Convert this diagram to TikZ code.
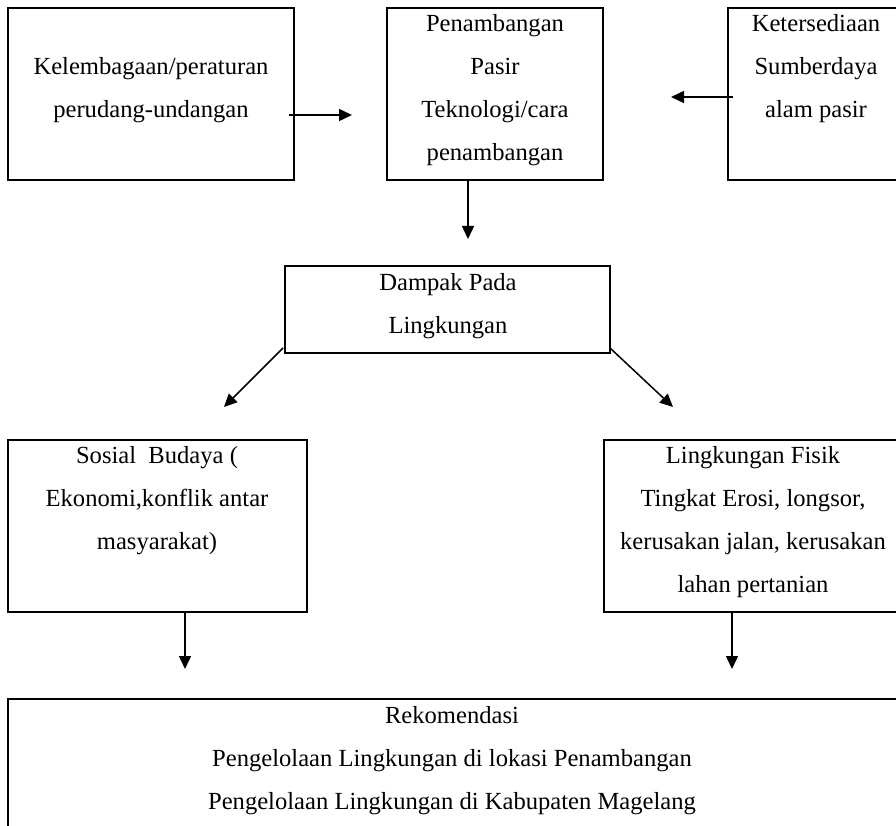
\documentclass[tikz,border=0pt]{standalone}
\usepackage{fontspec}
\setmainfont{Liberation Serif}
\usetikzlibrary{arrows.meta}
\begin{document}
\begin{tikzpicture}[x=1pt,y=-1pt,
  box/.style={draw=black,line width=2.6pt,inner sep=0pt,outer sep=0pt,rectangle},
  txt/.style={anchor=base,inner sep=0pt,font=\fontsize{24.6}{43}\selectfont},
  conn/.style={line width=1.5pt,-{Triangle[length=13pt,width=12pt]}}]
\path[use as bounding box] (0,0) rectangle (896,826);
\clip (0,0) rectangle (896,826);
% boxes
\node[box,minimum width=286pt,minimum height=172pt] (b1) at (151,94) {};
\node[box,minimum width=216pt,minimum height=172pt] (b2) at (495,94) {};
\node[box,minimum width=176pt,minimum height=172pt] (b3) at (816,94) {};
\node[box,minimum width=325pt,minimum height=87pt] (b4) at (447.5,309.5) {};
\node[box,minimum width=299pt,minimum height=172pt] (b5) at (157.5,526) {};
\node[box,minimum width=300pt,minimum height=172pt] (b6) at (754,526) {};
\node[box,minimum width=896pt,minimum height=161pt] (b7) at (456,779.5) {};
% texts
\node[txt] (t1a) at (151,75) {Kelembagaan/peraturan};
\node[txt] (t1b) at (151,118) {perudang-undangan};
\node[txt] (t2a) at (495,32) {Penambangan};
\node[txt] (t2b) at (495,75) {Pasir};
\node[txt] (t2c) at (495,118) {Teknologi/cara};
\node[txt] (t2d) at (495,161) {penambangan};
\node[txt] (t3a) at (816,32) {Ketersediaan};
\node[txt] (t3b) at (816,75) {Sumberdaya};
\node[txt] (t3c) at (816,118) {alam pasir};
\node[txt] (t4a) at (448,290) {Dampak Pada};
\node[txt] (t4b) at (448,333) {Lingkungan};
\node[txt] (t5a) at (157,463) {Sosial\ \ Budaya (};
\node[txt] (t5b) at (157,506) {Ekonomi,konflik antar};
\node[txt] (t5c) at (157,549) {masyarakat)};
\node[txt] (t6a) at (753,463) {Lingkungan Fisik};
\node[txt] (t6b) at (753,506) {Tingkat Erosi, longsor,};
\node[txt] (t6c) at (753,549) {kerusakan jalan, kerusakan};
\node[txt] (t6d) at (753,592) {lahan pertanian};
\node[txt] (t7a) at (452,723) {Rekomendasi};
\node[txt] (t7b) at (452,766) {Pengelolaan Lingkungan di lokasi Penambangan};
\node[txt] (t7c) at (452,809) {Pengelolaan Lingkungan di Kabupaten Magelang};
% connector ends
\coordinate (a1s) at (289,115); \coordinate (a1e) at (352,115);
\coordinate (a2s) at (733,97);  \coordinate (a2e) at (671,97);
\coordinate (a3s) at (468,180); \coordinate (a3e) at (468,239);
\coordinate (a4s) at (283,348); \coordinate (a4e) at (224,407);
\coordinate (a5s) at (610,348); \coordinate (a5e) at (673,407);
\coordinate (a6s) at (185,612); \coordinate (a6e) at (185,669);
\coordinate (a7s) at (732,612); \coordinate (a7e) at (732,669);
\draw[conn] (a1s) -- (a1e);
\draw[conn] (a2s) -- (a2e);
\draw[conn] (a3s) -- (a3e);
\draw[conn] (a4s) -- (a4e);
\draw[conn] (a5s) -- (a5e);
\draw[conn] (a6s) -- (a6e);
\draw[conn] (a7s) -- (a7e);
\end{tikzpicture}
\end{document}
